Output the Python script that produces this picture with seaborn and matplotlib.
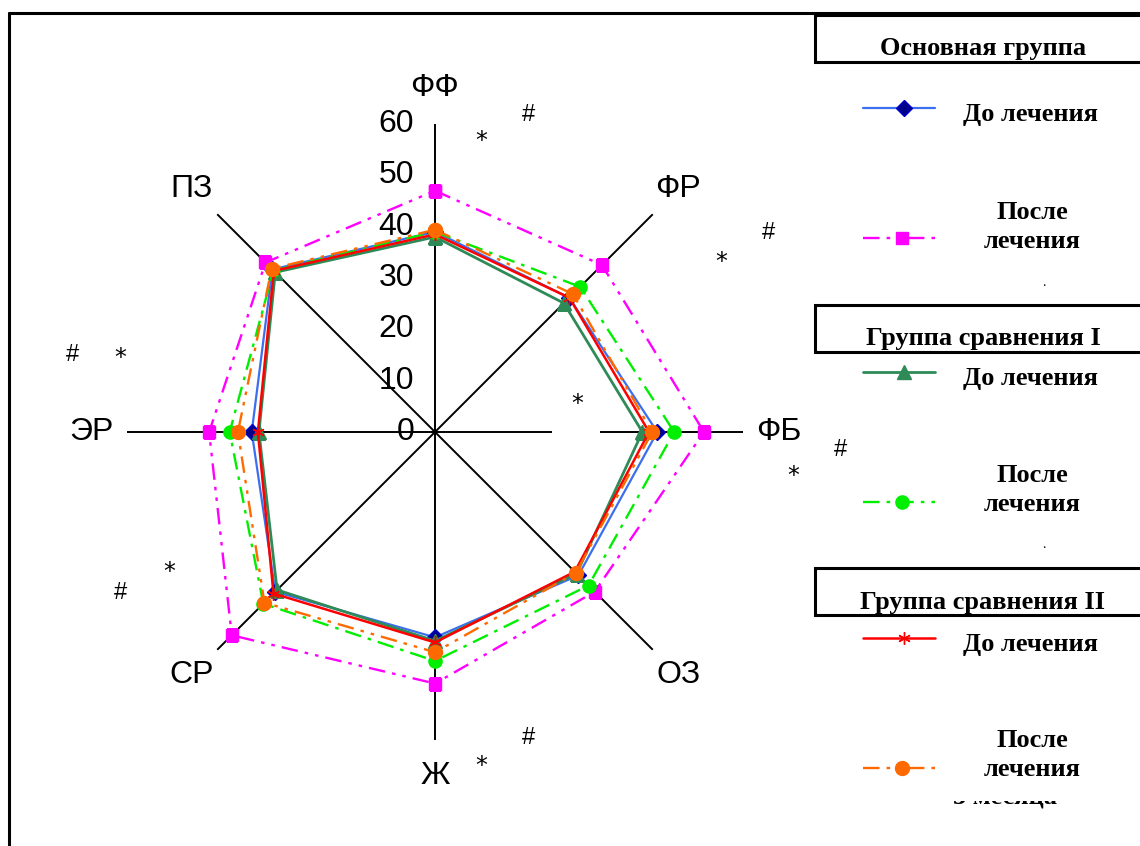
import numpy as np
import pandas as pd
import matplotlib
matplotlib.use("Agg")
import matplotlib.pyplot as plt
import seaborn as sns
from matplotlib.transforms import offset_copy
from matplotlib.patches import Rectangle
from matplotlib.lines import Line2D

sns.set_style("white")
plt.rcParams['font.family'] = ['Liberation Sans', 'DejaVu Sans']
plt.rcParams['text.color'] = 'black'

# ---------------- data ----------------
axes_labels = ["ФФ", "ФР", "ФБ", "ОЗ", "Ж", "СР", "ЭР", "ПЗ"]
r_ticks = [0, 10, 20, 30, 40, 50, 60]

main_before = [39.0, 37.0, 43.3, 39.5, 40.0, 44.0, 35.7, 44.8]
main_after = [47.0, 46.0, 52.4, 44.0, 49.0, 56.0, 44.0, 46.7]
cmp1_before = [38.0, 35.5, 40.4, 39.0, 40.7, 43.5, 34.3, 44.0]
cmp1_after = [39.0, 40.0, 46.6, 42.3, 44.6, 47.3, 40.0, 44.5]
cmp2_before = [38.5, 37.0, 41.7, 38.5, 41.0, 44.5, 34.5, 44.4]
cmp2_after = [39.4, 38.0, 42.3, 38.8, 42.9, 47.0, 38.4, 45.0]

series_names = ["Основная группа: до лечения", "Основная группа: после лечения",
                "Группа сравнения I: до лечения", "Группа сравнения I: после лечения",
                "Группа сравнения II: до лечения", "Группа сравнения II: после лечения"]
series_values = [main_before, main_after, cmp1_before, cmp1_after, cmp2_before, cmp2_after]

group_titles = ["Основная группа", "Группа сравнения I", "Группа сравнения II"]
legend_before = "До лечения"
legend_after = "После\nлечения"

# ---------------- styles ----------------
styles = [
    dict(color="#3c6ef0", lw=1.6, ls="-", marker="D", ms=8, mfc="#00008b", mec="#0000cd"),
    dict(color="#ff00ff", lw=1.7, ls=(0, (7, 3, 1.5, 3, 1.5, 3)), marker="s", ms=9, mfc="#ff00ff", mec="#ff00ff"),
    dict(color="#2e8b57", lw=2.0, ls="-", marker="^", ms=9.5, mfc="#2e8b57", mec="#2e8b57"),
    dict(color="#00ee00", lw=1.7, ls=(0, (7, 3, 1.5, 3)), marker="o", ms=9.5, mfc="#00ee00", mec="#00ee00"),
    dict(color="#ff0000", lw=1.8, ls="-", marker=(6, 2, 0), ms=9, mfc="#ff0000", mec="#ff0000"),
    dict(color="#ff6a00", lw=1.7, ls=(0, (7, 3, 1.5, 3, 1.5, 3)), marker="o", ms=10, mfc="#ff6a00", mec="#ff6a00"),
]

W, H = 1140, 846
fig = plt.figure(figsize=(W / 100, H / 100), dpi=100)
fig.patch.set_facecolor("white")

cx, cy, R = 435, 432, 308
ax = fig.add_axes([(cx - R) / W, (H - cy - R) / H, 2 * R / W, 2 * R / H], projection="polar")
ax.set_theta_offset(np.pi / 2)
ax.set_theta_direction(-1)

n = len(axes_labels)
angles = np.arange(n) * 2 * np.pi / n

rows = []
for name, vals in zip(series_names, series_values):
    th = list(angles) + [2 * np.pi]
    vv = list(vals) + [vals[0]]
    for i, (t, v) in enumerate(zip(th, vv)):
        rows.append(dict(series=name, theta=t, r=v, order=i))
df = pd.DataFrame(rows)

for name, st in zip(series_names, styles):
    d = df[df.series == name]
    sns.lineplot(data=d, x="theta", y="r", sort=False, estimator=None, ax=ax,
                 color=st["color"], linewidth=st["lw"], linestyle=st["ls"],
                 marker=st["marker"], markersize=st["ms"], markerfacecolor=st["mfc"],
                 markeredgecolor=st["mec"], markeredgewidth=1.0, legend=False, zorder=3)

ax.set_ylim(0, max(r_ticks))
ax.set_xticks(angles)
ax.set_xticklabels([])
ax.set_yticks([])
ax.xaxis.grid(True, color="black", linewidth=1.4)
ax.yaxis.grid(False)
ax.spines["polar"].set_visible(False)
ax.set_xlabel("")
ax.set_ylabel("")
ax.set_facecolor("none")

# radial tick labels along the top spoke
tr = offset_copy(ax.transData, fig=fig, x=-21, y=0, units="dots")
for v in r_ticks:
    ax.text(0, v, str(v), transform=tr, ha="right", va="center", fontsize=23, color="black", zorder=5)

# axis labels
for a, lab in zip(angles, axes_labels):
    ax.text(a, 67, lab, ha="center", va="center", fontsize=23, color="black")

# ---------------- overlay in pixel coordinates ----------------
ov = fig.add_axes([0, 0, 1, 1], zorder=10)
ov.set_xlim(0, W)
ov.set_ylim(H, 0)
ov.axis("off")
ov.patch.set_alpha(0)

# gap in the horizontal spoke
ov.add_patch(Rectangle((552, 428), 48, 8, facecolor="white", edgecolor="none", zorder=1))

# significance marks
sym_pos = [("*", 481, 137), ("#", 528, 115),
           ("#", 769, 233), ("*", 721, 258),
           ("*", 577, 400),
           ("#", 841, 450), ("*", 793, 472),
           ("#", 528, 738), ("*", 481, 762),
           ("#", 120, 593), ("*", 169, 568),
           ("#", 72, 355), ("*", 120, 354)]
for s, x, y in sym_pos:
    ov.text(x, y + (4 if s == "*" else 0), s, ha="center", va="center",
            fontsize=17 if s == "#" else 17, color="black", family=["DejaVu Sans"] if s == "*" else None)

# figure frame (top and left)
ov.add_line(Line2D([9, W], [13, 13], color="black", lw=2.2))
ov.add_line(Line2D([9, 9], [13, H], color="black", lw=2.2))

# legend
serif = ["Liberation Serif", "DejaVu Serif"]
box_tops = [15, 305, 568]
entry_y = [(108, 238, 212, 283), (372, 502, 475, 545), (638, 768, 740, None)]
for g, (title, top) in enumerate(zip(group_titles, box_tops)):
    rect = Rectangle((815, top), 330, 47, facecolor="white", edgecolor="black", lw=2.2, zorder=2)
    ov.add_patch(rect)
    t = ov.text(983, top + 34, title, ha="center", va="center", fontsize=19,
                fontweight="bold", family=serif, zorder=3, clip_on=True)
    t.set_clip_path(rect)
    yb, ya, yt, ydot = entry_y[g]
    sb = styles[2 * g]
    sa = styles[2 * g + 1]
    ov.add_line(Line2D([863, 935], [yb, yb], color=sb["color"], lw=sb["lw"], ls=sb["ls"]))
    ov.add_line(Line2D([904], [yb], marker=sb["marker"], ms=sb["ms"], mfc=sb["mfc"], mec=sb["mec"], ls="none"))
    ov.text(963, yb + 6, legend_before, ha="left", va="center", fontsize=19,
            fontweight="bold", family=serif)
    ov.add_line(Line2D([863, 935], [ya, ya], color=sa["color"], lw=sa["lw"], ls=sa["ls"]))
    ov.add_line(Line2D([902], [ya], marker=sa["marker"], ms=sa["ms"], mfc=sa["mfc"], mec=sa["mec"], ls="none"))
    ov.text(1032, yt + 15, legend_after, ha="center", va="center", fontsize=19,
            fontweight="bold", family=serif, linespacing=1.3)
    if ydot is not None:
        ov.text(1044, ydot, ".", ha="center", va="center", fontsize=10, family=serif)

# partially hidden line of text at the bottom of the legend
clip = Rectangle((900, 801), 200, 20, transform=ov.transData)
tt = ov.text(1005, 797, "3 месяца", ha="center", va="center", fontsize=19,
             fontweight="bold", family=serif, clip_on=True)
tt.set_clip_path(clip)

fig.savefig("out.png", dpi=100, facecolor="white")
